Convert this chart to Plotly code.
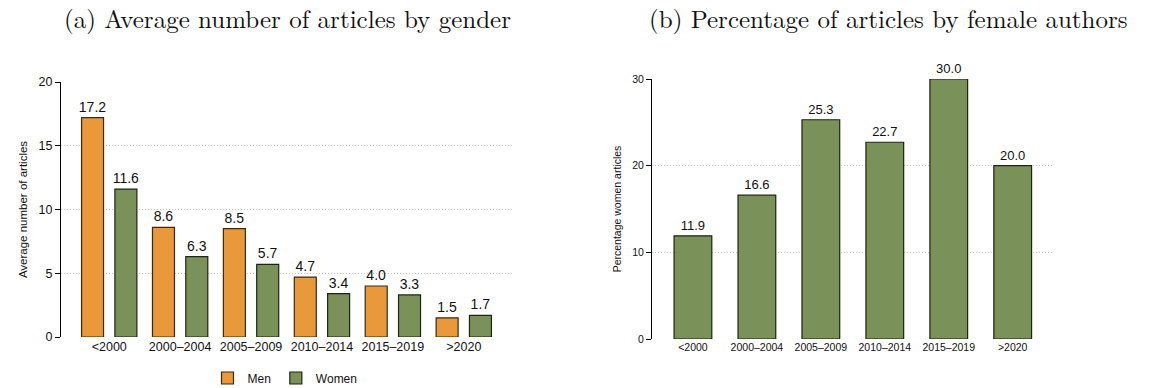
import plotly.graph_objects as go

# Periods of first publication
periods = ["<2000", "2000–2004", "2005–2009", "2010–2014", "2015–2019", ">2020"]

# (a) Average number of articles per author, by gender
men_avg = [17.2, 8.6, 8.5, 4.7, 4.0, 1.5]
women_avg = [11.6, 6.3, 5.7, 3.4, 3.3, 1.7]

# (b) Share of articles written by female authors (%)
women_pct = [11.9, 16.6, 25.3, 22.7, 30.0, 20.0]

left_ticks = [0, 5, 10, 15, 20]
right_ticks = [0, 10, 20, 30]

ORANGE = "#E9983A"
GREEN = "#7A9159"
SANS = "Liberation Sans, Arial, sans-serif"
SERIF = "Latin Modern Roman, CMU Serif, DejaVu Serif, serif"

W, H = 1152, 388

fig = go.Figure()

fig.add_trace(go.Bar(
    x=periods, y=men_avg, name="Men",
    marker=dict(color=ORANGE, line=dict(color="#3a2a10", width=1.2)),
    texttemplate="%{y:.1f}", textposition="outside", constraintext="none",
    textfont=dict(family=SANS, size=14, color="#111"),
    cliponaxis=False, xaxis="x", yaxis="y",
))
fig.add_trace(go.Bar(
    x=periods, y=women_avg, name="Women",
    marker=dict(color=GREEN, line=dict(color="#1c2412", width=1.2)),
    texttemplate="%{y:.1f}", textposition="outside", constraintext="none",
    textfont=dict(family=SANS, size=14, color="#111"),
    cliponaxis=False, xaxis="x", yaxis="y",
))
fig.add_trace(go.Bar(
    x=periods, y=women_pct, name="Women", showlegend=False,
    marker=dict(color=GREEN, line=dict(color="#1c2412", width=1.2)),
    texttemplate="%{y:.1f}", textposition="outside", constraintext="none",
    textfont=dict(family=SANS, size=13, color="#111"),
    cliponaxis=False, xaxis="x2", yaxis="y2", width=0.59,
    offsetgroup="b",
))

def px_x(p):
    return p / W

def px_y(p):
    return (H - p) / H

grid = dict(showgrid=True, gridcolor="#c4c4c4", griddash="1px,2px", gridwidth=1,
            zeroline=False, showline=True, linecolor="black", linewidth=1,
            ticks="outside", ticklen=5, tickcolor="black")

fig.update_layout(
    width=W, height=H,
    margin=dict(l=0, r=0, t=0, b=0, autoexpand=False),
    paper_bgcolor="white", plot_bgcolor="white",
    barmode="group", bargap=0.06, bargroupgap=0.34,
    font=dict(family=SANS, color="#111"),
    xaxis=dict(domain=[px_x(61), px_x(512)], range=[-0.68, 5.68],
               showgrid=False, zeroline=False, showline=False, ticks="",
               tickfont=dict(size=12.5), anchor="y"),
    yaxis=dict(domain=[px_y(337), px_y(82)], range=[0, 20],
               tickvals=left_ticks, tickfont=dict(size=12.5),
               title=dict(text="Average number of articles",
                          font=dict(size=11.5), standoff=8),
               anchor="x", **grid),
    xaxis2=dict(domain=[px_x(652), px_x(1053)], range=[-0.64, 5.63],
                showgrid=False, zeroline=False, showline=False, ticks="",
                tickfont=dict(size=10.5), anchor="y2"),
    yaxis2=dict(domain=[px_y(339), px_y(79)], range=[0, 30],
                tickvals=right_ticks, tickfont=dict(size=10.5),
                title=dict(text="Percentage women articles",
                           font=dict(size=10.5), standoff=8),
                anchor="x2", **grid),
    legend=dict(orientation="h", x=px_x(285), xanchor="center",
                y=px_y(378), yanchor="middle",
                font=dict(size=12), itemwidth=30,
                bgcolor="rgba(0,0,0,0)"),
    showlegend=True,
)

title_font = dict(family=SERIF, size=25, color="#111")
fig.add_annotation(text="(a) Average number of articles by gender",
                   x=px_x(287), y=px_y(18), xref="paper", yref="paper",
                   xanchor="center", yanchor="middle",
                   showarrow=False, font=title_font)
fig.add_annotation(text="(b) Percentage of articles by female authors",
                   x=px_x(888), y=px_y(18), xref="paper", yref="paper",
                   xanchor="center", yanchor="middle",
                   showarrow=False, font=title_font)

fig.write_html("out.html")
